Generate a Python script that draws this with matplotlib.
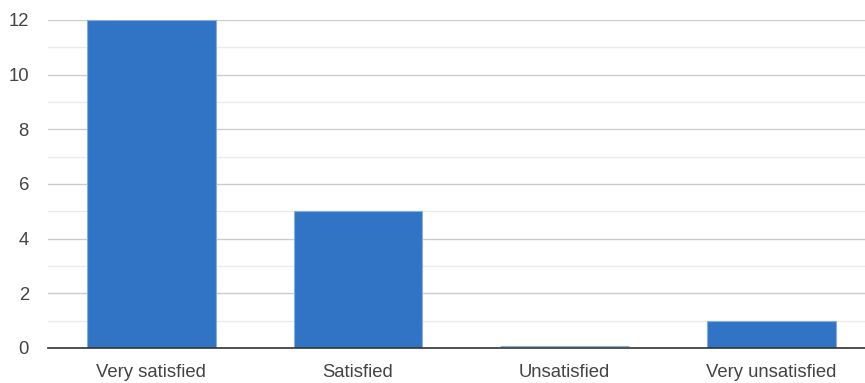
import matplotlib
matplotlib.use("Agg")
import matplotlib.pyplot as plt
from matplotlib.ticker import MultipleLocator
from matplotlib.transforms import ScaledTranslation

categories = ["Very satisfied", "Satisfied", "Unsatisfied", "Very unsatisfied"]
counts = [12, 5, 0, 1]

plt.rcParams['font.family'] = ['Liberation Sans', 'DejaVu Sans']

W, H = 865, 383
fig = plt.figure(figsize=(W/100, H/100), dpi=100)
left, right = 48, 865
top, bottom = 20, 348
ax = fig.add_axes([left/W, 1 - bottom/H, (right-left)/W, (bottom-top)/H])

x = list(range(len(categories)))
bars = ax.bar(x, counts, width=0.624, color='#3174c6', edgecolor='#86aee0', linewidth=0.8, zorder=3)
# zero-valued bars are drawn as a thin sliver just above the baseline
for b, v in zip(bars, counts):
    if v == 0:
        b.set_transform(ax.transData + ScaledTranslation(0, 2/100, fig.dpi_scale_trans))

ax.set_xlim(-0.5, (right-left)/206.67 - 0.5)
ax.set_ylim(0, 12)
ax.yaxis.set_major_locator(MultipleLocator(2))
ax.yaxis.set_minor_locator(MultipleLocator(1))
ax.grid(axis='y', which='major', color='#cccccc', linewidth=1, zorder=0)
ax.grid(axis='y', which='minor', color='#ebebeb', linewidth=1, zorder=0)
ax.set_xticks(x)
ax.set_xticklabels(categories)
for s in ['top', 'right', 'left']:
    ax.spines[s].set_visible(False)
ax.spines['bottom'].set_color('#333333')
ax.spines['bottom'].set_linewidth(1.2)
ax.spines['bottom'].set_zorder(4)
ax.tick_params(axis='both', which='both', length=0, labelsize=13.3, colors='#444444')
ax.tick_params(axis='y', pad=13.7)
ax.tick_params(axis='x', pad=11.5)

fig.savefig("out.png", dpi=100)
